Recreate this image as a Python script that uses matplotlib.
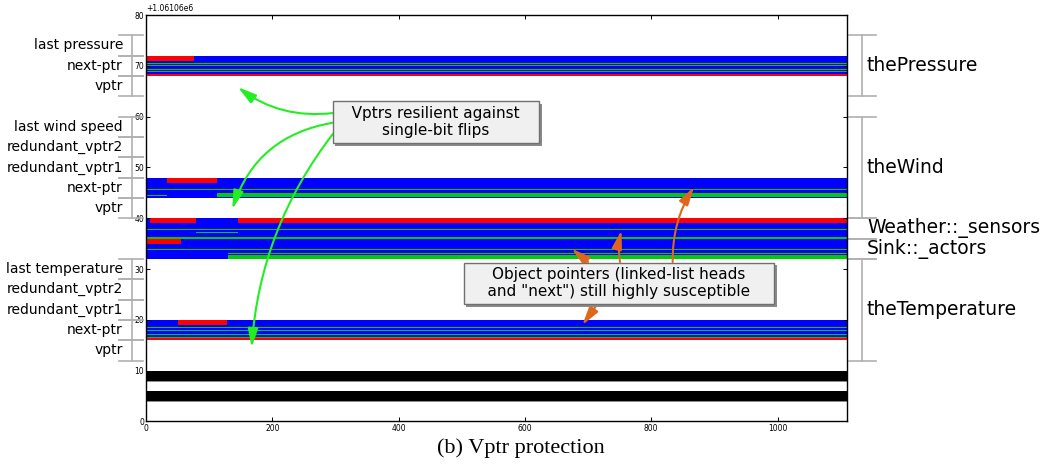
import numpy as np
import matplotlib.pyplot as plt
from matplotlib import transforms, patheffects

# address axis: bytes relative to this base address
BASE = 1061060
x_end = 1110

# object layout (byte offsets)
obj_names = ['thePressure', 'theWind', 'Weather::_sensors', 'Sink::_actors', 'theTemperature']
obj_lo = [64, 40, 36, 32, 12]
obj_hi = [76, 60, 40, 36, 32]

field_names = ['last pressure', 'next-ptr', 'vptr',
               'last wind speed', 'redundant_vptr2', 'redundant_vptr1', 'next-ptr', 'vptr',
               'last temperature', 'redundant_vptr2', 'redundant_vptr1', 'next-ptr', 'vptr']
field_lo = [72, 68, 64, 56, 52, 48, 44, 40, 28, 24, 20, 16, 12]
field_size = 4

# injection outcomes: bit range (bottom, height) x time range (start, end)
seg_y = [68.0, 71.0, 70.45, 69.95, 69.25, 68.85, 68.0,
         44.0, 47.0, 45.55, 44.1, 44.4,
         32.0, 39.0, 39.0, 37.6, 37.0, 36.0, 35.0, 33.7, 33.0, 32.0, 32.5,
         16.0, 19.0, 18.4, 17.9, 17.0, 16.5, 16.0,
         8.0, 7.8, 4.0, 3.8]
seg_h = [4.0, 1.0, 0.2, 0.2, 0.2, 0.2, 0.375,
         4.0, 1.0, 0.2, 0.8, 0.2,
         8.0, 1.0, 1.0, 0.2, 0.2, 0.4, 0.95, 0.2, 0.15, 0.7, 0.15,
         4.0, 1.0, 0.2, 0.2, 0.2, 0.2, 0.375,
         2.0, 0.2, 2.0, 0.2]
seg_x0 = [0, 0, 0, 0, 0, 0, 0,
          0, 34, 0, 112, 0,
          0, 6, 145, 0, 80, 0, 0, 0, 130, 130, 54,
          0, 51, 0, 0, 0, 0, 0,
          0, 0, 0, 0]
seg_x1 = [x_end, 76, x_end, x_end, x_end, x_end, x_end,
          x_end, 112, x_end, x_end, 34,
          x_end, 80, x_end, x_end, 145, x_end, 55, x_end, x_end, x_end, 130,
          x_end, 128, x_end, x_end, x_end, x_end, x_end,
          x_end, x_end, x_end, x_end]
seg_out = ['crash', 'sdc', 'timeout', 'timeout', 'timeout', 'timeout', 'sdc',
           'crash', 'sdc', 'timeout', 'timeout', 'timeout',
           'crash', 'sdc', 'sdc', 'timeout', 'timeout', 'timeout', 'sdc', 'timeout', 'timeout', 'timeout', 'timeout',
           'crash', 'sdc', 'timeout', 'timeout', 'timeout', 'timeout', 'sdc',
           'other', 'edge', 'other', 'edge']

out_colors = {'crash': '#0000ff', 'sdc': '#ff0000', 'timeout': '#00cc00',
              'other': '#000000', 'edge': '#8c8c8c'}

fig = plt.figure(figsize=(10.57, 4.66), dpi=100)
ax = fig.add_axes([0.1381, 0.0955, 0.6632, 0.8723])

y = BASE + np.array(seg_y)
x0 = np.array(seg_x0)
w = np.array(seg_x1) - x0
ax.barh(y, w, height=seg_h, left=x0, align='edge',
        color=[out_colors[o] for o in seg_out], linewidth=0)

ax.set_xlim(0, x_end)
ax.set_ylim(BASE, BASE + 80)
ax.set_yticks(BASE + np.arange(0, 81, 10))
ax.ticklabel_format(axis='y', useOffset=BASE)
ax.tick_params(direction='in', length=3, width=0.7, labelsize=5.5, pad=1.5,
               top=True, right=True)
ax.yaxis.get_offset_text().set_fontsize(5.5)
for s in ax.spines.values():
    s.set_linewidth(1.0)

# field / object brackets
blend = transforms.blended_transform_factory(ax.transAxes, ax.transData)
gray = '#b0b0b0'
for i in [0, 1, 4]:
    lo, hi = BASE + obj_lo[i], BASE + obj_hi[i]
    ax.plot([-0.0204, -0.0204], [lo, hi], transform=blend, clip_on=False, color=gray, lw=1.2)
for lo, name in zip(field_lo, field_names):
    for t in (lo, lo + field_size):
        ax.plot([-0.0385, -0.0043], [BASE + t] * 2, transform=blend, clip_on=False, color=gray, lw=1.2)
    ax.text(-0.0328, BASE + lo + field_size / 2, name, transform=blend,
            ha='right', va='center', fontsize=10)

for lo, hi, name in zip(obj_lo, obj_hi, obj_names):
    if hi - lo > field_size:
        ax.plot([1.0214, 1.0214], [BASE + lo, BASE + hi], transform=blend, clip_on=False, color=gray, lw=1.2)
    for t in (lo, hi):
        ax.plot([1.003, 1.0414], [BASE + t] * 2, transform=blend, clip_on=False, color=gray, lw=1.2)
    ax.text(1.0285, BASE + (lo + hi) / 2, name, transform=blend,
            ha='left', va='center', fontsize=13.5)

# callout boxes with drop shadow
def callout(x, yy, txt):
    box = dict(boxstyle='square,pad=0.3', fc='#f0f0f0', ec='#707070', lw=1)
    t = ax.text(x, yy, txt, ha='center', va='center', fontsize=11, bbox=box, zorder=6)
    t.get_bbox_patch().set_path_effects([
        patheffects.SimplePatchShadow(offset=(2, -2), shadow_rgbFace='#8a8a8a', alpha=1.0),
        patheffects.Normal()])

green = '#22ee22'
for (sx, sy), (tx, ty), rad in [((296, 60.7), (145.7, 65.8), -0.2),
                                ((296, 58.8), (136.7, 41.8), 0.3),
                                ((296, 56.6), (167.3, 14.6), 0.15)]:
    ax.annotate('', xy=(tx, BASE + ty), xytext=(sx, BASE + sy),
                arrowprops=dict(arrowstyle='-|>,head_length=0.8,head_width=0.22', color=green,
                                lw=1.5, mutation_scale=14, shrinkA=0, shrinkB=0,
                                connectionstyle='arc3,rad=%s' % rad), zorder=4)
callout(459, BASE + 58.9, '   Vptrs resilient against   \nsingle-bit flips')

orange = '#e0661c'
for (sx, sy), (tx, ty), rad in [((700, 31.4), (674, 34.0), 0.0),
                                ((750.6, 31.4), (753, 37.6), -0.1),
                                ((834, 31.4), (868, 46.2), -0.15),
                                ((713.7, 22.9), (691, 19.0), 0.0)]:
    ax.annotate('', xy=(tx, BASE + ty), xytext=(sx, BASE + sy),
                arrowprops=dict(arrowstyle='-|>,head_length=0.8,head_width=0.22', color=orange,
                                lw=1.5, mutation_scale=14, shrinkA=0, shrinkB=0,
                                connectionstyle='arc3,rad=%s' % rad), zorder=4)
callout(749, BASE + 27.2, 'Object pointers (linked-list heads\n    and "next") still highly susceptible    ')

fig.text(0.493, 0.038, '(b) Vptr protection', ha='center', va='center',
         fontsize=16, family='Liberation Serif')

fig.savefig('out.png', dpi=100)
